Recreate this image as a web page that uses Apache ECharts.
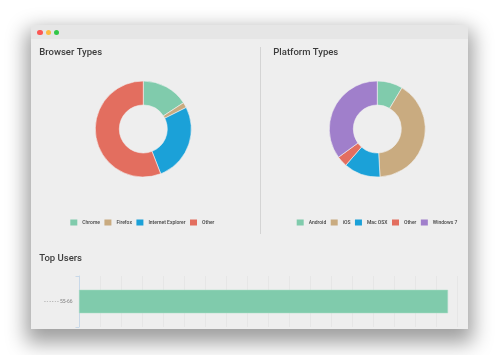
<!DOCTYPE html>
<html>
<head>
<meta charset="utf-8">
<script src="https://cdn.jsdelivr.net/npm/echarts@6/dist/echarts.min.js"></script>
<style>
html, body { margin: 0; padding: 0; background: #fff; overflow: hidden; }
#win {
  position: absolute; left: 31px; top: 25px; width: 437px; height: 304px;
  background: #eeeeee; border-radius: 3px 3px 0 0;
  box-shadow: 0 9px 20px 5px rgba(0,0,0,0.38);
}
#bar { position: absolute; left: 0; top: 0; width: 100%; height: 13.5px; background: #e6e6e6; border-radius: 3px 3px 0 0; }
.dot { position: absolute; top: 4.5px; width: 5.5px; height: 5.5px; border-radius: 50%; }
#divider { position: absolute; left: 228.5px; top: 22px; width: 1.4px; height: 187px; background: #d4d4d4; }
#main { position: absolute; left: 0; top: 0; width: 500px; height: 329px; }
</style>
</head>
<body>
<div id="win">
  <div id="bar">
    <div class="dot" style="left:6.3px;background:#fc5753"></div>
    <div class="dot" style="left:14.5px;background:#fdbc40"></div>
    <div class="dot" style="left:22.9px;background:#33c748"></div>
  </div>
  <div id="divider"></div>
</div>
<div id="main"></div>
<script>
var colors = ['#80cbac', '#c9ab80', '#1ba1d8', '#e36e5f', '#a07fcb'];

var browserNames = ['Chrome', 'Firefox', 'Internet Explorer', 'Other'];
var browserValues = [15.8, 1.8, 26.5, 55.9];

var platformNames = ['Android', 'iOS', 'Mac OSX', 'Other', 'Windows 7'];
var platformValues = [8.6, 40.5, 12.3, 3.6, 35];

var userCategories = ['- - - - - - 55-66'];
var userValues = [17.57];

// each slice gets its own colour, the shared palette would follow the name
function toData(names, values) {
  return names.map(function (n, i) {
    return {
      name: n,
      value: values[i],
      itemStyle: { color: colors[i], borderColor: '#f2f2f2', borderWidth: 0.6 }
    };
  });
}

function titleOf(text, left, top) {
  return {
    text: text, left: left, top: top, padding: 0,
    textStyle: { fontFamily: 'Roboto', fontSize: 9.5, fontWeight: 500, color: '#3c3c3c' }
  };
}

function legendOf(names, left) {
  return {
    data: names, left: left, top: 219.5, padding: 0,
    itemWidth: 7, itemHeight: 6, itemGap: 4.5,
    icon: 'rect', symbolKeepAspect: false, selectedMode: false,
    itemStyle: { borderWidth: 0 },
    textStyle: { fontFamily: 'Roboto', fontSize: 5, fontWeight: 500, color: '#444' }
  };
}

function pieOf(names, values, cx) {
  return {
    type: 'pie', radius: [24, 48], center: [cx, 129], startAngle: 90,
    label: { show: false }, labelLine: { show: false }, silent: true,
    data: toData(names, values)
  };
}

var chart = echarts.init(document.getElementById('main'), null, { renderer: 'canvas' });
chart.setOption({
  animation: false,
  title: [
    titleOf('Browser Types', 39.3, 48),
    titleOf('Platform Types', 273.3, 48),
    titleOf('Top Users', 39.3, 254)
  ],
  legend: [legendOf(browserNames, 70.3), legendOf(platformNames, 296.7)],
  grid: { left: 79, top: 276, width: 378, height: 51 },
  xAxis: {
    type: 'value', min: 0, max: 18, interval: 1,
    axisLine: { show: false }, axisTick: { show: false }, axisLabel: { show: false },
    splitLine: { show: true, lineStyle: { color: '#e3e3e3', width: 0.8 } }
  },
  yAxis: {
    type: 'category', data: userCategories,
    axisLine: { show: true, lineStyle: { color: '#c8d8e8', width: 1 } },
    axisTick: { show: true, length: 3.5, lineStyle: { color: '#c8d8e8', width: 1 } },
    axisLabel: { fontFamily: 'Roboto', fontSize: 5, color: '#808080', margin: 6.5 }
  },
  series: [
    pieOf(browserNames, browserValues, 143.3),
    pieOf(platformNames, platformValues, 377.3),
    {
      type: 'bar', data: userValues, barWidth: 23.5, silent: true,
      itemStyle: { color: colors[0], borderColor: '#a9dcc7', borderWidth: 0.5 }
    }
  ]
});
</script>
</body>
</html>
